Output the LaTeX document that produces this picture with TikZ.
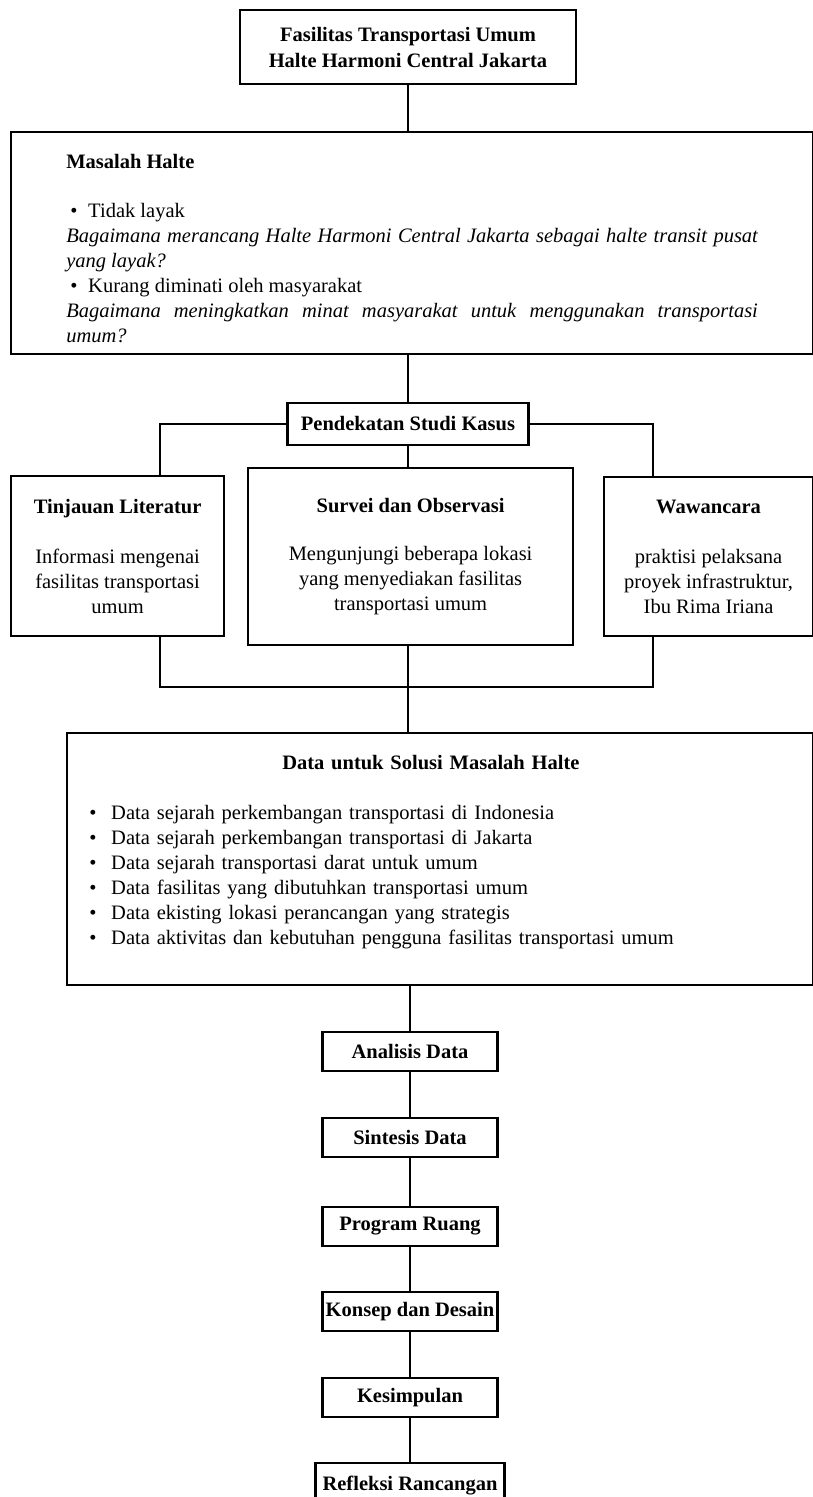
\documentclass[tikz,border=0pt]{standalone}
\usepackage{fontspec}
\setmainfont{Liberation Serif}
\hyphenpenalty=10000
\exhyphenpenalty=10000

\begin{document}
\begin{tikzpicture}[x=0.6pt, y=-0.6pt,
  box/.style={draw, line width=1.3pt, align=center, inner sep=0pt,
    font=\fontsize{12.3}{15}\selectfont},
  stage/.style={box, minimum width=105pt, minimum height=23.4pt,
    font=\fontsize{12.3}{15}\selectfont\bfseries},
  link/.style={line width=0.9pt}]
\useasboundingbox (0,0) rectangle (813,1497);

% top of the chart
\node[box, minimum width=201.6pt, minimum height=44.4pt, font=\fontsize{12.3}{15.6}\selectfont\bfseries] (fasilitas) at (408,47)
  {Fasilitas Transportasi Umum\\Halte Harmoni Central Jakarta};

\node[box, anchor=north west, minimum width=481.2pt, minimum height=133.2pt, text width=415pt, align=justify] (masalah) at (10,131)
  {\rule{0pt}{15pt}\textbf{Masalah Halte}\\[14.4pt]
   \hspace*{2.4pt}\makebox[10.8pt][l]{\textbullet}Tidak layak\\
   \textit{Bagaimana merancang Halte Harmoni Central Jakarta sebagai halte transit pusat yang layak?}\\
   \hspace*{2.4pt}\makebox[10.8pt][l]{\textbullet}Kurang diminati oleh masyarakat\\
   \textit{Bagaimana meningkatkan minat masyarakat untuk menggunakan transportasi umum?}};

% case study methods
\node[box, minimum width=144.6pt, minimum height=25.2pt, font=\fontsize{12.3}{15}\selectfont\bfseries] (pendekatan) at (408,424) {Pendekatan Studi Kasus};

\node[box, anchor=north west, minimum width=127.8pt, minimum height=96pt] (tinjauan) at (10,475)
  {\textbf{Tinjauan Literatur}\\[15pt]Informasi mengenai\\fasilitas transportasi\\umum};
\node[box, anchor=north west, minimum width=195pt, minimum height=106.2pt] (survei) at (247,467)
  {\textbf{Survei dan Observasi}\\[14pt]Mengunjungi beberapa lokasi\\yang menyediakan fasilitas\\transportasi umum};
\node[box, anchor=north west, minimum width=125.4pt, minimum height=95.4pt] (wawancara) at (603,476)
  {\textbf{Wawancara}\\[15pt]praktisi pelaksana\\proyek infrastruktur,\\Ibu Rima Iriana};

\coordinate (lbranch) at (160,687);
\coordinate (rbranch) at (653,687);

\node[box, anchor=north west, minimum width=447.6pt, minimum height=151.2pt, text width=421pt, align=left] (data) at (66,732)
  {\makebox[\linewidth]{\textbf{Data untuk Solusi Masalah Halte}\hspace*{11pt}}\\[15pt]
   \makebox[13.2pt][l]{\textbullet}Data sejarah perkembangan transportasi di Indonesia\\
   \makebox[13.2pt][l]{\textbullet}Data sejarah perkembangan transportasi di Jakarta\\
   \makebox[13.2pt][l]{\textbullet}Data sejarah transportasi darat untuk umum\\
   \makebox[13.2pt][l]{\textbullet}Data fasilitas yang dibutuhkan transportasi umum\\
   \makebox[13.2pt][l]{\textbullet}Data ekisting lokasi perancangan yang strategis\\
   \makebox[13.2pt][l]{\textbullet}Data aktivitas dan kebutuhan pengguna fasilitas transportasi umum\rule[-11pt]{0pt}{11pt}};

% design stages
\node[stage] (analisis) at (410,1051.5) {Analisis Data};
\node[stage] (sintesis) at (410,1137.5) {Sintesis Data};
\node[stage] (program) at (410,1226.5) {Program Ruang};
\node[stage] (konsep) at (410,1311.5) {Konsep dan Desain};
\node[stage] (kesimpulan) at (410,1397.5) {Kesimpulan};
\node[stage, minimum width=113.4pt, minimum height=27pt] (refleksi) at (410,1485.5) {Refleksi Rancangan};

% connectors
\draw[link] (fasilitas.south) -- (masalah.north -| fasilitas.south);
\draw[link] (masalah.south -| pendekatan.north) -- (pendekatan.north);
\draw[link] (pendekatan.west) -| (tinjauan.north -| lbranch);
\draw[link] (pendekatan.east) -| (wawancara.north -| rbranch);
\draw[link] (pendekatan.south) -- (survei.north -| pendekatan.south);
\draw[link] (tinjauan.south -| lbranch) -- (lbranch) -- (rbranch) -- (wawancara.south -| rbranch);
\draw[link] (survei.south -| pendekatan.south) -- (data.north -| pendekatan.south);
\draw[link] (data.south -| analisis.north) -- (analisis.north);
\draw[link] (analisis) -- (sintesis) -- (program) -- (konsep) -- (kesimpulan) -- (refleksi);
\end{tikzpicture}
\end{document}
